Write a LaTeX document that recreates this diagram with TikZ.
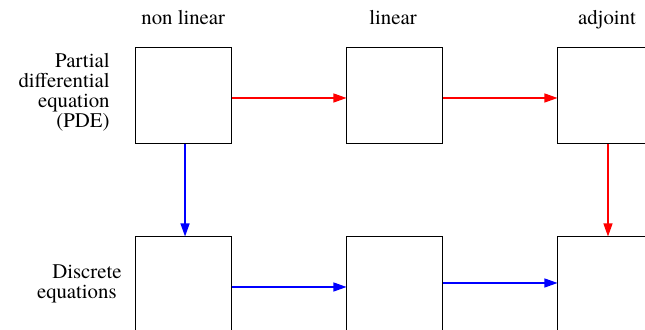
\documentclass[tikz,border=0pt]{standalone}
\usepackage{fontspec}
\setmainfont{texgyretermes-regular.otf}
\usepackage{xcolor}
\usetikzlibrary{arrows.meta}
\usetikzlibrary{math}

\tikzset{
  box/.style={draw, fill=white, line width=0.5pt, minimum size=48pt, inner sep=0pt},
  lbl/.style={inner sep=0pt, font=\fontsize{10.4}{10}\selectfont},
  redarrow/.style={draw=red, line width=0.6pt, -{Triangle[length=6.5pt,width=4.5pt]}},
  bluearrow/.style={draw=blue, line width=0.6pt, -{Triangle[length=6.5pt,width=4.5pt]}}
}

\begin{document}
\begin{tikzpicture}[x=0.5pt,y=-0.5pt]
\tikzmath{
\xa=183.25;
\xb=395;
\xc=606;
\ytop=96;
\ybot=285;
}
\useasboundingbox (0,0) rectangle (645,330);
\clip (0,0) rectangle (645,330);

%%%%%%%%%%  column titles
\node[lbl, anchor=base] (tnl) at (\xa,25) {non linear};
\node[lbl, anchor=base] (tl) at (393,25) {linear};
\node[lbl, anchor=base] (tadj) at (607,25) {adjoint};

%%%%%%%%%%  row titles
\node[lbl, anchor=east, align=right] (rpde) at (110,92) {Partial\\differential\\equation\\(PDE)};
\node[lbl, anchor=east, align=right] (rdis) at (122,284) {Discrete\\equations\hspace*{2.5pt}};

%%%%%%%%%%  top row (PDE)
\node[box] (pdenl) at (\xa,\ytop) {};
\node[box] (pdel) at (\xb,\ytop) {};
\node[box] (pdeadj) at (\xc,\ytop) {};

%%%%%%%%%%  bottom row (discrete)
\node[box] (disnl) at (\xa,\ybot) {};
\node[box] (disl) at (\xb,\ybot) {};
\node[box] (disadj) at (\xc,\ybot) {};

%%%%%%%%%%  arrows
\draw[redarrow] ([yshift=-1pt]pdenl.east) -- ([yshift=-1pt]pdel.west);
\draw[redarrow] ([yshift=-1pt]pdel.east) -- ([yshift=-1pt]pdeadj.west);
\draw[bluearrow] ([xshift=0.9pt]pdenl.south) -- ([xshift=0.9pt]disnl.north);
\draw[redarrow] ([xshift=1pt]pdeadj.south) -- ([xshift=1pt]disadj.north);
\draw[bluearrow] ([yshift=-1pt]disnl.east) -- ([yshift=-1pt]disl.west);
\draw[bluearrow] ([yshift=1pt]disl.east) -- ([yshift=1pt]disadj.west);
\end{tikzpicture}
\end{document}
